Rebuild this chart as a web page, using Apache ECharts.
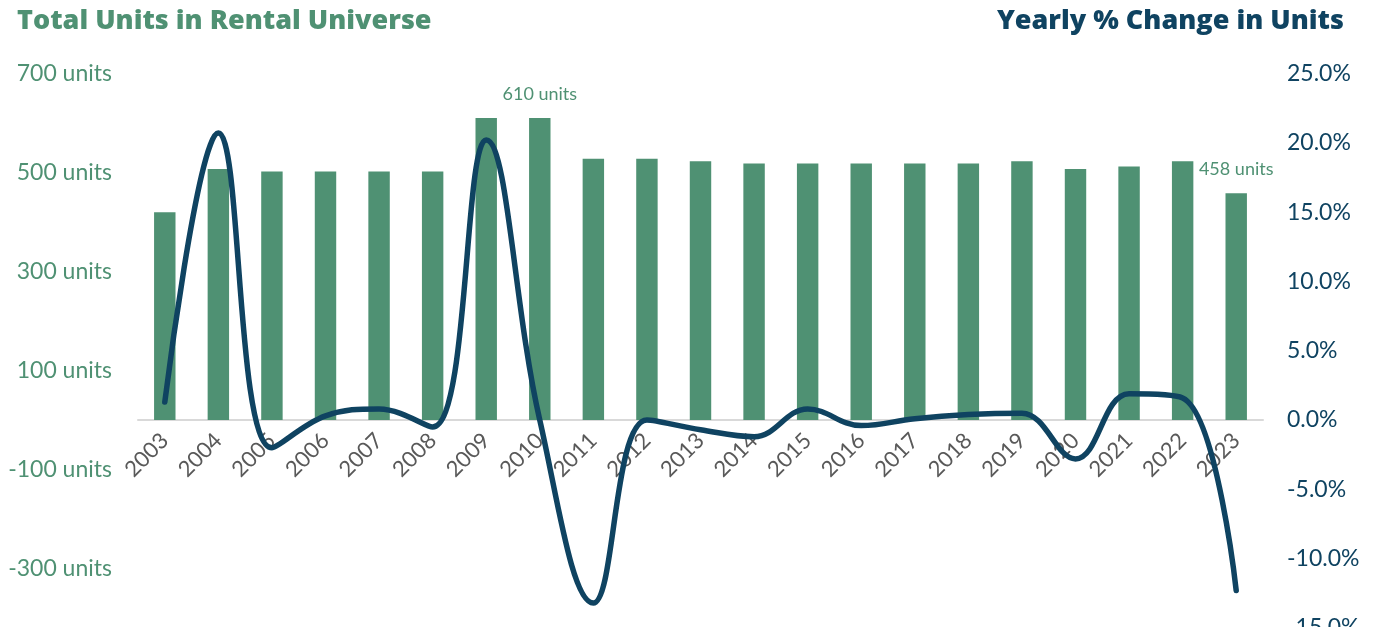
<!DOCTYPE html>
<html>
<head>
<meta charset="utf-8">
<script src="https://cdn.jsdelivr.net/npm/echarts@6/dist/echarts.min.js"></script>
<style>
html,body{margin:0;padding:0;background:#fff;}
#chart{width:1378px;height:627px;}
</style>
</head>
<body>
<div id="chart"></div>
<script>
const years = ['2003','2004','2005','2006','2007','2008','2009','2010','2011','2012','2013','2014','2015','2016','2017','2018','2019','2020','2021','2022','2023'];
const totalUnits = [420, 507, 502, 502, 502, 502, 610, 610, 528, 528, 523, 518, 518, 518, 518, 518, 523, 507, 512, 523, 458];
const yearlyChange = [1.3, 20.7, -2.0, 0.3, 0.8, -0.5, 20.2, 0.0, -13.2, 0.0, -0.7, -1.2, 0.8, -0.4, 0.1, 0.4, 0.5, -2.8, 1.9, 1.6, -12.3];
const labeledYears = ['2010', '2023'];
const leftTicks = [-300, -100, 100, 300, 500, 700];

const GREEN = '#4f9173';
const NAVY = '#0f4361';
const FONT = 'Lato, "Open Sans", sans-serif';
const TITLE_FONT = '"Open Sans", Lato, sans-serif';

const GRID_TOP = 73.5, GRID_H = 554.5, LEFT_MIN = -420, LEFT_MAX = 700;
const zeroOffset = GRID_H * (0 - LEFT_MIN) / (LEFT_MAX - LEFT_MIN);

const chart = echarts.init(document.getElementById('chart'));
chart.setOption({
  animation: false,
  backgroundColor: '#ffffff',
  title: [
    {text: 'Total Units in Rental Universe', left: 12, top: 3,
     textStyle: {color: GREEN, fontSize: 27, fontWeight: 800, fontFamily: TITLE_FONT}},
    {text: 'Yearly % Change in Units', right: 29, top: 3,
     textStyle: {color: NAVY, fontSize: 27, fontWeight: 800, fontFamily: TITLE_FONT}}
  ],
  grid: {left: 138, right: 115, top: GRID_TOP, height: GRID_H, containLabel: false, outerBoundsMode: 'none'},
  xAxis: {
    type: 'category',
    data: years,
    offset: -zeroOffset,
    axisLine: {show: true, onZero: false, lineStyle: {color: '#d9d9d9', width: 2}},
    axisTick: {show: false},
    axisLabel: {rotate: 45, color: '#595959', fontSize: 22, fontFamily: FONT, margin: 17, interval: 0}
  },
  yAxis: [
    {
      type: 'value', min: LEFT_MIN, max: LEFT_MAX,
      splitLine: {show: false}, axisLine: {show: false}, axisTick: {show: false},
      axisLabel: {customValues: leftTicks, color: GREEN, fontSize: 23, fontFamily: FONT, margin: 26,
                  formatter: v => v + ' units'}
    },
    {
      type: 'value', min: -15, max: 25, interval: 5,
      splitLine: {show: false}, axisLine: {show: false}, axisTick: {show: false},
      axisLabel: {color: NAVY, fontSize: 23, fontFamily: FONT, margin: 24,
                  formatter: v => v.toFixed(1) + '%'}
    }
  ],
  series: [
    {
      type: 'bar', name: 'Total Units', data: totalUnits, yAxisIndex: 0,
      barWidth: '40%',
      itemStyle: {color: GREEN},
      label: {show: true, position: 'top', distance: 15, color: GREEN, fontSize: 18, fontFamily: FONT,
              formatter: p => labeledYears.includes(p.name) ? p.value + ' units' : ''}
    },
    {
      type: 'line', name: 'Yearly % Change', data: yearlyChange, yAxisIndex: 1,
      smooth: 0.4, symbol: 'none',
      lineStyle: {color: NAVY, width: 5.5, cap: 'round', join: 'round'},
      z: 5
    }
  ]
});
</script>
</body>
</html>
